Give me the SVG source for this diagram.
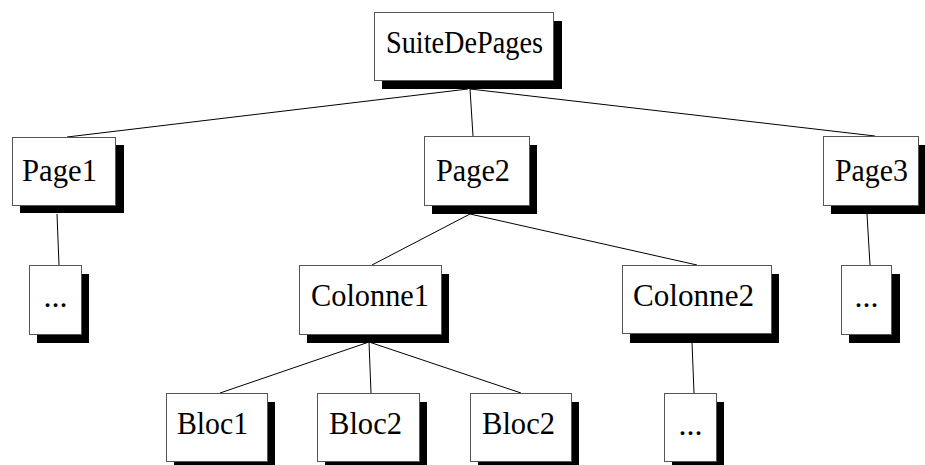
<svg xmlns="http://www.w3.org/2000/svg" width="925" height="465" viewBox="0 0 925 465">
<style>
.box{fill:#fff;stroke:#555;stroke-width:1}
.sh{fill:#000}
.t{font-family:"Liberation Serif","Times New Roman",serif;font-size:32px;fill:#000}
.e{stroke:#000;stroke-width:1;fill:none}
</style>
<rect width="925" height="465" fill="#fff"/>
<g id="edges">
<line class="e" x1="468" y1="89" x2="67" y2="137"/>
<line class="e" x1="470" y1="89" x2="473" y2="136"/>
<line class="e" x1="470" y1="89" x2="875" y2="136"/>
<line class="e" x1="57" y1="214" x2="59" y2="265"/>
<line class="e" x1="470" y1="214" x2="372" y2="265"/>
<line class="e" x1="470" y1="214" x2="697" y2="265"/>
<line class="e" x1="867" y1="214" x2="870" y2="265"/>
<line class="e" x1="369" y1="342" x2="220" y2="393"/>
<line class="e" x1="369" y1="342" x2="371" y2="393"/>
<line class="e" x1="369" y1="342" x2="521" y2="393"/>
<line class="e" x1="692" y1="342" x2="694" y2="393"/>
</g>
<g id="SuiteDePages"><rect class="sh" x="382" y="21" width="180" height="68"/><rect class="box" x="374.5" y="12.5" width="179" height="68"/><text class="t" x="386" y="53" textLength="157" lengthAdjust="spacingAndGlyphs">SuiteDePages</text></g>
<g id="Page1"><rect class="sh" x="20" y="145" width="104" height="68"/><rect class="box" x="12.5" y="137.5" width="103" height="68"/><text class="t" x="22" y="181" textLength="75" lengthAdjust="spacingAndGlyphs">Page1</text></g>
<g id="Page2"><rect class="sh" x="432" y="145" width="105" height="69"/><rect class="box" x="424.5" y="136.5" width="105" height="69"/><text class="t" x="436" y="181" textLength="74" lengthAdjust="spacingAndGlyphs">Page2</text></g>
<g id="Page3"><rect class="sh" x="831" y="145" width="95" height="69"/><rect class="box" x="823.5" y="136.5" width="95" height="69"/><text class="t" x="835" y="181" textLength="73" lengthAdjust="spacingAndGlyphs">Page3</text></g>
<g id="Dots1"><rect class="sh" x="37" y="274" width="52" height="69"/><rect class="box" x="29.5" y="265.5" width="52" height="69"/><text class="t" x="55.5" y="307" text-anchor="middle">...</text></g>
<g id="Colonne1"><rect class="sh" x="307" y="274" width="142" height="69"/><rect class="box" x="299.5" y="265.5" width="142" height="69"/><text class="t" x="311" y="306" textLength="118" lengthAdjust="spacingAndGlyphs">Colonne1</text></g>
<g id="Colonne2"><rect class="sh" x="630" y="274" width="149" height="69"/><rect class="box" x="622.5" y="265.5" width="149" height="68"/><text class="t" x="633" y="306" textLength="121" lengthAdjust="spacingAndGlyphs">Colonne2</text></g>
<g id="Dots3"><rect class="sh" x="849" y="274" width="51" height="69"/><rect class="box" x="841.5" y="265.5" width="50" height="69"/><text class="t" x="866.5" y="307" text-anchor="middle">...</text></g>
<g id="Bloc1"><rect class="sh" x="174" y="402" width="101" height="68"/><rect class="box" x="166.5" y="393.5" width="101" height="68"/><text class="t" x="177" y="434" textLength="71" lengthAdjust="spacingAndGlyphs">Bloc1</text></g>
<g id="Bloc2a"><rect class="sh" x="325" y="402" width="102" height="68"/><rect class="box" x="317.5" y="393.5" width="102" height="68"/><text class="t" x="329" y="434" textLength="73" lengthAdjust="spacingAndGlyphs">Bloc2</text></g>
<g id="Bloc2b"><rect class="sh" x="478" y="402" width="101" height="68"/><rect class="box" x="470.5" y="393.5" width="101" height="68"/><text class="t" x="482" y="434" textLength="73" lengthAdjust="spacingAndGlyphs">Bloc2</text></g>
<g id="Dots2"><rect class="sh" x="672" y="402" width="52" height="68"/><rect class="box" x="664.5" y="393.5" width="52" height="68"/><text class="t" x="690.5" y="435" text-anchor="middle">...</text></g>
</svg>
